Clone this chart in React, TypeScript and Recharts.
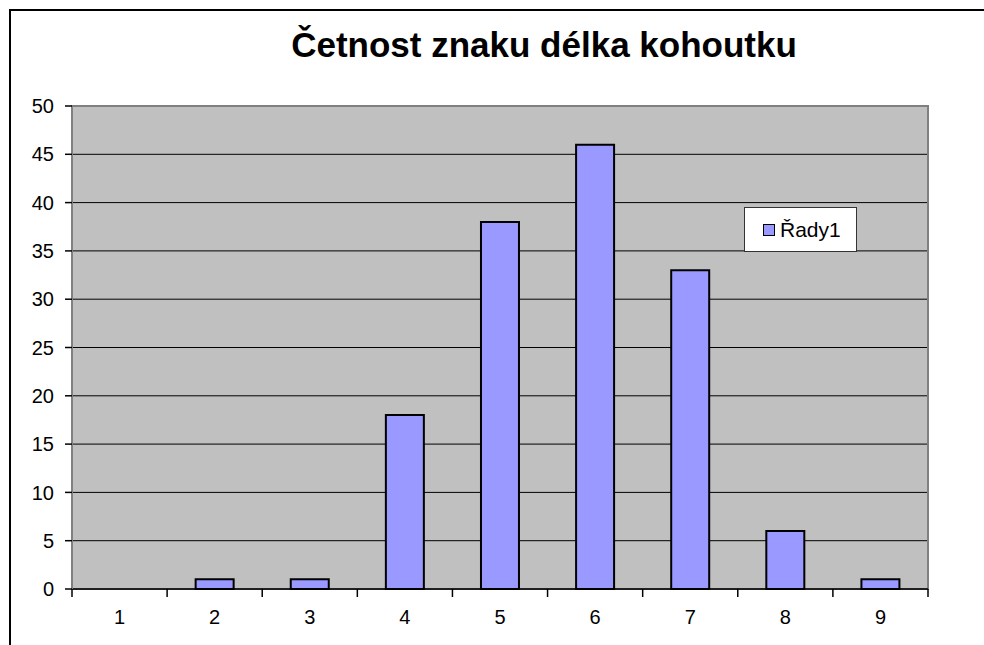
import React from 'react';
import { BarChart, Bar, XAxis, YAxis, CartesianGrid, ReferenceArea } from 'recharts';

const categories = ['1', '2', '3', '4', '5', '6', '7', '8', '9'];
const values = [0, 1, 1, 18, 38, 46, 33, 6, 1];
const yTicks = [0, 5, 10, 15, 20, 25, 30, 35, 40, 45, 50];
const seriesName = 'Řady1';
const title = 'Četnost znaku délka kohoutku';

const data = categories.map((c, i) => ({ name: c, value: values[i] }));

const FONT = '"Liberation Sans", Arial, sans-serif';

const XTick = (props: any) => {
  const { x, y, payload, index, visibleTicksCount } = props;
  const band = 856 / categories.length;
  const left = x - band / 2;
  const right = x + band / 2;
  const count = visibleTicksCount ?? categories.length;
  return (
    <g>
      <line x1={left} x2={left} y1={y} y2={y + 8} stroke="#000" strokeWidth={1.5} />
      {index === count - 1 && (
        <line x1={right} x2={right} y1={y} y2={y + 8} stroke="#000" strokeWidth={1.5} />
      )}
      <text x={x} y={y + 35} textAnchor="middle" fontSize={20} fill="#000" fontFamily={FONT}>
        {payload.value}
      </text>
    </g>
  );
};

export default function App() {
  return (
    <div style={{ position: 'fixed', left: 0, top: 0, width: 984, height: 645, overflow: 'hidden', background: '#fff' }}>
      <div
        style={{
          position: 'absolute',
          left: 9,
          top: 9,
          width: 990,
          height: 660,
          borderTop: '2px solid #000',
          borderLeft: '2px solid #000',
        }}
      />
      <div
        style={{
          position: 'absolute',
          left: 544 - 300,
          width: 600,
          top: 22,
          textAlign: 'center',
          fontFamily: FONT,
          fontWeight: 'bold',
          fontSize: 35,
          color: '#000',
          lineHeight: '46px',
        }}
      >
        {title}
      </div>
      <div style={{ position: 'absolute', left: 0, top: 0 }}>
        <BarChart
          width={984}
          height={645}
          data={data}
          margin={{ top: 106, right: 56, bottom: 26, left: 12 }}
          barCategoryGap="30%"
        >
          <CartesianGrid vertical={false} horizontal={true} stroke="#000" strokeWidth={1} fill="#C0C0C0" fillOpacity={1} />
          <ReferenceArea y1={0} y2={50} fill="none" stroke="#808080" strokeWidth={2} ifOverflow="visible" />
          <XAxis
            dataKey="name"
            height={30}
            tickLine={false}
            tickSize={0}
            tickMargin={0}
            axisLine={{ stroke: '#000', strokeWidth: 1.5 }}
            tick={<XTick />}
            interval={0}
          />
          <YAxis
            width={60}
            domain={[0, 50]}
            ticks={yTicks}
            interval={0}
            tickSize={7}
            tickMargin={11}
            tickLine={{ stroke: '#000', strokeWidth: 1.5 }}
            axisLine={{ stroke: '#808080', strokeWidth: 2 }}
            tick={{ fill: '#000', fontSize: 20, fontFamily: FONT }}
          />
          <Bar
            dataKey="value"
            name={seriesName}
            fill="#9999FF"
            stroke="#000"
            strokeWidth={2}
            isAnimationActive={false}
          />
        </BarChart>
      </div>
      <div
        style={{
          position: 'absolute',
          left: 744,
          top: 207,
          width: 111,
          height: 43,
          background: '#fff',
          border: '1px solid #333',
          display: 'flex',
          alignItems: 'center',
          fontFamily: FONT,
          fontSize: 21,
          color: '#000',
        }}
      >
        <span
          style={{
            display: 'inline-block',
            width: 10,
            height: 10,
            background: '#9999FF',
            border: '1.5px solid #000',
            marginLeft: 18,
            marginRight: 5,
          }}
        />
        <span>{seriesName}</span>
      </div>
    </div>
  );
}
